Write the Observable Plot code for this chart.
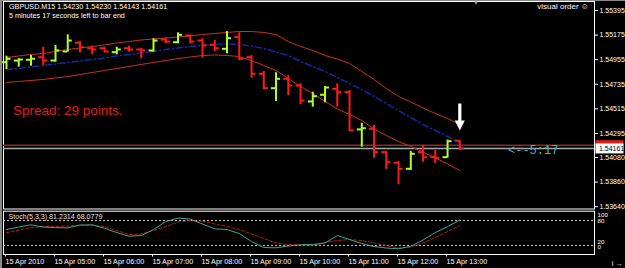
<!DOCTYPE html>
<html><head><meta charset="utf-8">
<script src="https://cdn.jsdelivr.net/npm/d3@7"></script>
<script src="https://cdn.jsdelivr.net/npm/@observablehq/plot@0.6"></script>
<style>
html,body{margin:0;padding:0;background:#000;}
#chart{position:relative;width:625px;height:268px;overflow:hidden;background:#000;color:#fff;
  font-family:"Liberation Sans",Arial,sans-serif;}
#chart svg{position:absolute;left:0;overflow:visible !important;background:transparent;}
.t{position:absolute;white-space:nowrap;line-height:1;}
</style></head><body>
<div id="chart"></div>
<script>
// ---------- data ----------
const symbol = "GBPUSD.M15";
const times = ["04:00","04:15","04:30","04:45","05:00","05:15","05:30","05:45","06:00","06:15","06:30","06:45",
  "07:00","07:15","07:30","07:45","08:00","08:15","08:30","08:45","09:00","09:15","09:30","09:45",
  "10:00","10:15","10:30","10:45","11:00","11:15","11:30","11:45","12:00","12:15","12:30","12:45","13:00","13:15"];
const open  = [1.54932,1.54947,1.54954,1.54977,1.54947,1.55028,1.55106,1.55057,1.55057,1.55022,1.55057,1.55046,
  1.55037,1.55135,1.55111,1.55171,1.55126,1.55088,1.55052,1.55156,1.54977,1.54829,1.54700,1.54784,
  1.54724,1.54581,1.54641,1.54694,1.54664,1.54331,1.54337,1.54128,1.54033,1.53979,1.54128,1.54083,1.54083,1.54230];
const high  = [1.54986,1.54963,1.54992,1.55066,1.55082,1.55177,1.55117,1.55075,1.55066,1.55066,1.55075,1.55057,
  1.55142,1.55147,1.55195,1.55177,1.55142,1.55126,1.55207,1.55195,1.54992,1.54849,1.54838,1.54813,
  1.54739,1.54664,1.54715,1.54739,1.54679,1.54387,1.54366,1.54134,1.54044,1.54134,1.54187,1.54143,1.54236,1.54230];
const low   = [1.54867,1.54888,1.54897,1.54903,1.54932,1.55022,1.55016,1.54998,1.55022,1.54998,1.55022,1.54963,
  1.55022,1.55097,1.55097,1.55097,1.54968,1.55028,1.55007,1.54947,1.54789,1.54688,1.54581,1.54635,
  1.54551,1.54530,1.54569,1.54530,1.54313,1.54172,1.54074,1.53973,1.53836,1.53964,1.54038,1.54024,1.54074,1.54143];
const close = [1.54963,1.54956,1.54963,1.54947,1.55037,1.55126,1.55066,1.55046,1.55028,1.55046,1.55046,1.55037,
  1.55126,1.55117,1.55177,1.55117,1.55082,1.55057,1.55147,1.54963,1.54829,1.54700,1.54784,1.54724,
  1.54590,1.54628,1.54706,1.54664,1.54322,1.54342,1.54128,1.54038,1.53979,1.54113,1.54083,1.54077,1.54226,1.54161];
const upperBand  = [1.54974,1.54988,1.55001,1.55010,1.55028,1.55046,1.55059,1.55073,1.55086,1.55104,1.55117,1.55131,
  1.55140,1.55149,1.55158,1.55167,1.55180,1.55189,1.55198,1.55207,1.55207,1.55198,1.55180,1.55117,
  1.55073,1.55037,1.54992,1.54961,1.54921,1.54849,1.54778,1.54697,1.54626,1.54576,1.54523,1.54474,1.54429,1.54375];
const middleBand = [1.54867,1.54876,1.54889,1.54903,1.54916,1.54930,1.54943,1.54956,1.54970,1.54988,1.55001,1.55015,
  1.55028,1.55046,1.55059,1.55073,1.55082,1.55091,1.55095,1.55091,1.55077,1.55055,1.55024,1.54992,
  1.54939,1.54894,1.54849,1.54796,1.54742,1.54688,1.54626,1.54563,1.54500,1.54438,1.54375,1.54322,1.54268,1.54214];
const lowerBand  = [1.54751,1.54760,1.54769,1.54778,1.54791,1.54804,1.54822,1.54840,1.54858,1.54876,1.54894,1.54912,
  1.54930,1.54947,1.54965,1.54979,1.54992,1.54997,1.54992,1.54983,1.54947,1.54903,1.54858,1.54787,
  1.54715,1.54652,1.54581,1.54514,1.54465,1.54411,1.54335,1.54277,1.54223,1.54179,1.54129,1.54076,1.54022,1.53964];
const stochMain   = [58.3,64.3,69.6,64.3,63.0,62.4,69.0,69.6,61.4,51.0,42.2,43.9,58.3,77.5,85.9,83.5,71.5,60.0,58.3,
  48.7,29.5,15.1,14.4,18.7,21.6,22.3,25.9,43.9,34.3,24.7,17.5,13.9,12.0,18.2,33.1,51.1,65.5,81.2314];
const stochSignal = [51.0,57.0,63.0,65.5,66.2,66.7,69.0,69.0,65.5,56.0,46.3,47.5,56.0,65.5,76.3,79.9,78.7,71.5,65.5,
  58.3,48.0,36.7,25.9,22.3,21.6,20.4,27.1,31.9,34.3,31.9,25.9,19.9,13.9,16.3,25.9,39.1,53.5,68.0779];
const priceTicks = [1.55395,1.55175,1.54955,1.54735,1.54515,1.54295,1.54080,1.53860,1.53640];
const timeTickLabels = ["15 Apr 2010","15 Apr 05:00","15 Apr 06:00","15 Apr 07:00","15 Apr 08:00",
  "15 Apr 09:00","15 Apr 10:00","15 Apr 11:00","15 Apr 12:00","15 Apr 13:00"];
const stochLevels = [80, 20];
const stochScale = [100, 80, 20, 0];
const spreadPoints = 29;
const pointSize = 0.00001;
const timeLeft = {min: 5, sec: 17};
const arrowNote = [{bar: 37, top: 1.54563}];

// ---------- derived tables ----------
const n = times.length;
const bars = times.map((t, i) => ({i, t, o: open[i], h: high[i], l: low[i], c: close[i],
  up: close[i] >= open[i], ub: upperBand[i], mb: middleBand[i], lb: lowerBand[i]}));
const st = times.map((t, i) => ({i, k: stochMain[i], d: stochSignal[i]}));
const bid = close[n - 1];
const ask = bid + spreadPoints * pointSize;
const tickIdx = times.map((t, i) => t.endsWith(":00") ? i : -1).filter(i => i >= 0);
const FONT = '"Liberation Sans",Arial,sans-serif';
const UP = "#adff2f", DN = "#ff1a1a";
const X = {type: "linear", domain: [0, n - 1], range: [6, 459.3]};
const col = d => d.up ? UP : DN;

const boxSym = {draw(ctx) { ctx.rect(-14, -5, 28, 10); }};
const arrowShape = {draw(ctx, l) {
  ctx.moveTo(-1.6, 0); ctx.lineTo(-1.6, -l + 10); ctx.lineTo(-5, -l + 10); ctx.lineTo(0, -l);
  ctx.lineTo(5, -l + 10); ctx.lineTo(1.6, -l + 10); ctx.lineTo(1.6, 0); ctx.closePath();
}};

const main = Plot.plot({
  width: 625, height: 209, marginLeft: 3, marginRight: 31, marginTop: 1, marginBottom: 0.5,
  style: {background: "transparent", color: "#fff", fontFamily: FONT, fontSize: "7px"},
  x: {...X, axis: null},
  y: {domain: [1.53640, 1.55395], range: [206.2, 9.95], axis: null},
  color: {type: "identity"},
  marks: [
    Plot.frame({stroke: "#fff"}),
    Plot.ruleY([ask], {stroke: "#8c2a22", strokeWidth: 1.6}),
    Plot.ruleY([bid], {stroke: "#a8a8a8", strokeWidth: 1.6}),
    Plot.line(bars, {x: "i", y: "ub", stroke: "#c8302a", strokeWidth: 1, clip: true}),
    Plot.line(bars, {x: "i", y: "lb", stroke: "#c8302a", strokeWidth: 1, clip: true}),
    Plot.line(bars, {x: "i", y: "mb", stroke: "#1a28b0", strokeWidth: 1.4, strokeDasharray: "6,3,1.2,3", clip: true}),
    Plot.ruleX(bars, {x: "i", y1: "l", y2: "h", stroke: col, strokeWidth: 2}),
    Plot.ruleY(bars, {x1: "i", x2: "i", y: "o", stroke: col, strokeWidth: 2, insetLeft: -4.5, insetRight: 0}),
    Plot.ruleY(bars, {x1: "i", x2: "i", y: "c", stroke: col, strokeWidth: 2, insetLeft: 0, insetRight: -4.5}),
    Plot.vector(arrowNote, {x: "bar", y: "top", length: 27, rotate: 180, anchor: "start",
      shape: arrowShape, fill: "#fff", stroke: "none"}),
    Plot.axisY(priceTicks, {anchor: "right", tickSize: 3, tickPadding: 2, stroke: "#fff", fontSize: 7,
      tickFormat: d => d.toFixed(5)}),
    Plot.dot([ask], {y: d => d, frameAnchor: "right", dx: 15, symbol: boxSym, fill: "#e01b1b", stroke: "none"}),
    Plot.dot([bid], {y: d => d, frameAnchor: "right", dx: 15, symbol: boxSym, fill: "#fff", stroke: "none"}),
    Plot.text([bid], {y: d => d, frameAnchor: "right", dx: 4.5, textAnchor: "start", fill: "#000", fontSize: 7,
      text: d => d.toFixed(5)})
  ]
});
main.style.top = "0px";

const stoch = Plot.plot({
  width: 625, height: 59, marginLeft: 3, marginRight: 31, marginTop: 1.7, marginBottom: 14,
  style: {background: "transparent", color: "#fff", fontFamily: FONT, fontSize: "7.2px"},
  x: {...X, axis: null},
  y: {domain: [0, 100], range: [44.3, 2.7], axis: null},
  marks: [
    Plot.frame({stroke: "#fff"}),
    Plot.ruleY(stochLevels, {stroke: "#c8c8c8", strokeDasharray: "2,2"}),
    Plot.line(st, {x: "i", y: "d", stroke: "#b01c1c", strokeWidth: 1, strokeDasharray: "3,2", clip: true}),
    Plot.line(st, {x: "i", y: "k", stroke: "#3ca89c", strokeWidth: 1, clip: true}),
    Plot.text([`Stoch(5,3,3) ${stochMain[n - 1].toFixed(4)} ${stochSignal[n - 1].toFixed(4)}`],
      {frameAnchor: "top-left", dx: 5, dy: 3, lineAnchor: "top", textAnchor: "start", fill: "#e0e0e0", fontSize: 7.1}),
    Plot.axisX(tickIdx, {anchor: "bottom", tickSize: 2.5, tickPadding: 2, stroke: "#fff", fontSize: 7.2,
      textAnchor: "start", dx: -1, tickFormat: d => timeTickLabels[tickIdx.indexOf(d)]}),
    Plot.text(stochScale.filter(v => v === 100), {y: d => d, text: d => String(d), frameAnchor: "right", dx: 3, dy: 2.5, textAnchor: "start", fontSize: 6.2}),
    Plot.text(stochScale.filter(v => v === 80), {y: d => d, text: d => String(d), frameAnchor: "right", dx: 3, dy: 0.3, textAnchor: "start", fontSize: 6.2}),
    Plot.text(stochScale.filter(v => v === 20), {y: d => d, text: d => String(d), frameAnchor: "right", dx: 3, dy: -3.7, textAnchor: "start", fontSize: 6.2}),
    Plot.text(stochScale.filter(v => v === 0), {y: d => d, text: d => String(d), frameAnchor: "right", dx: 3, dy: -6.3, textAnchor: "start", fontSize: 6.2})
  ]
});
stoch.style.top = "209px";

const chart = document.getElementById("chart");
chart.append(main, stoch);

function addText(txt, css) {
  const d = document.createElement("div");
  d.className = "t"; d.textContent = txt;
  Object.assign(d.style, css);
  chart.append(d);
}
const last = n - 1;
addText(`${symbol}  ${open[last].toFixed(5)} ${high[last].toFixed(5)} ${low[last].toFixed(5)} ${close[last].toFixed(5)}`,
  {left: "9px", top: "3px", fontSize: "7.2px", color: "#fff"});
addText(`${timeLeft.min} minutes ${timeLeft.sec} seconds left to bar end`,
  {left: "9px", top: "12px", fontSize: "7.2px", color: "#fff"});
addText("visual order \u263A", {right: "36px", top: "2.5px", fontSize: "8px", color: "#fff"});
addText("\u25BC", {left: "473px", top: "0px", fontSize: "6px", color: "#9a9a9a"});
addText(`Spread: ${spreadPoints} points.`,
  {left: "13px", top: "104px", fontSize: "13.5px", color: "#e31b1b"});
addText(`<--${timeLeft.min}:${timeLeft.sec}`,
  {left: "508px", top: "145px", fontSize: "12px", color: "#62b0b0", fontFamily: '"Liberation Mono",monospace'});
// window border strips
addText("", {left: "0px", top: "0px", width: "2px", height: "268px", background: "#8a8a8a"});
addText("", {left: "0px", top: "0px", width: "625px", height: "1px", background: "#8a8a8a"});
</script>
</body></html>
